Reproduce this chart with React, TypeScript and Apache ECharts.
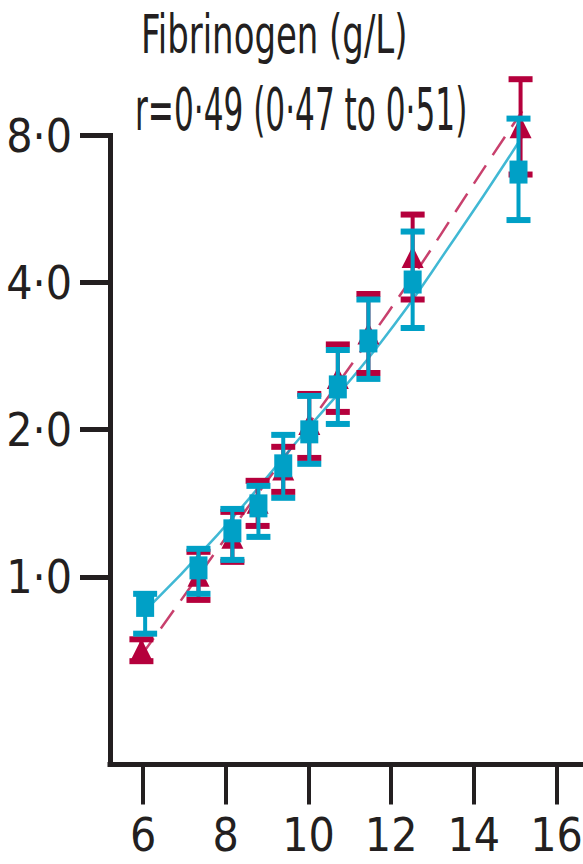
import React, { useEffect, useRef } from "react";
import * as echarts from "echarts";

// Tick values
const xTicks = [6, 8, 10, 12, 14, 16];
const yTicks = [1, 2, 4, 8];

// Blue squares: group means with error bars
const blueX = [6.05, 7.34, 8.16, 8.79, 9.39, 10.02, 10.71, 11.45, 12.52, 15.08];
const blueMean = [0.874, 1.043, 1.242, 1.397, 1.687, 1.98, 2.447, 3.039, 4.011, 6.734];
const blueLow = [0.765, 0.923, 1.083, 1.207, 1.451, 1.703, 2.055, 2.541, 3.23, 5.371];
const blueHigh = [0.923, 1.141, 1.377, 1.535, 1.952, 2.345, 2.912, 3.694, 5.088, 8.663];

// Red triangles: group means with error bars
const redX = [5.96, 7.34, 8.16, 8.77, 9.39, 10.02, 10.71, 11.45, 12.52, 15.13];
const redMean = [0.709, 1.005, 1.202, 1.417, 1.659, 2.055, 2.552, 3.147, 4.512, 8.322];
const redLow = [0.672, 0.897, 1.073, 1.271, 1.492, 1.751, 2.175, 2.613, 3.694, 6.656];
const redHigh = [0.745, 1.125, 1.358, 1.572, 1.845, 2.367, 2.989, 3.791, 5.512, 10.43];

// Fitted lines
const blueFitX = [6.0, 7.8, 9.81, 11.74, 13.56, 15.18];
const blueFitY = [0.844, 1.219, 1.933, 3.01, 4.96, 7.98];
const redFitX = [5.95, 6.58, 7.67, 11.93, 14.44, 15.17];
const redFitY = [0.689, 0.817, 1.099, 3.48, 7.26, 8.97];

const titleText = "Fibrinogen (g/L)";
const subtitleText = "r=0·49 (0·47 to 0·51)";

const BLUE = "#00a0c6";
const RED = "#b5003c";
const INK = "#231f20";
const COND = "'DejaVu Sans Condensed', 'DejaVu Sans', sans-serif";

function errorRenderer(color: string) {
  return (params: any, api: any) => {
    const x = api.value(0);
    const lo = api.coord([x, api.value(1)]);
    const hi = api.coord([x, api.value(2)]);
    const hw = 12;
    return {
      type: "group",
      children: [
        { type: "line", shape: { x1: lo[0], y1: lo[1], x2: hi[0], y2: hi[1] }, style: { stroke: color, lineWidth: 4 } },
        { type: "line", shape: { x1: lo[0] - hw, y1: lo[1], x2: lo[0] + hw, y2: lo[1] }, style: { stroke: color, lineWidth: 6 } },
        { type: "line", shape: { x1: hi[0] - hw, y1: hi[1], x2: hi[0] + hw, y2: hi[1] }, style: { stroke: color, lineWidth: 6 } },
      ],
    };
  };
}

export default function App() {
  const ref = useRef<HTMLDivElement>(null);
  useEffect(() => {
    if (!ref.current) return;
    const chart = echarts.init(ref.current, undefined, { renderer: "svg" });
    const fmt = (v: number) => v.toFixed(1).replace(".", "·");
    chart.setOption({
      animation: false,
      backgroundColor: "#ffffff",
      grid: { left: 110, right: 0, top: 135.5, bottom: 99.5, containLabel: false, outerBoundsMode: "none" },
      xAxis: {
        type: "value",
        min: 5.2,
        max: 16.64,
        axisLine: { show: true, onZero: false, lineStyle: { color: INK, width: 5, cap: "square" } },
        axisTick: { show: true, length: 40, customValues: xTicks, lineStyle: { color: INK, width: 4 } },
        axisLabel: {
          customValues: xTicks,
          margin: 47,
          lineHeight: 46,
          color: INK,
          fontFamily: COND,
          fontSize: 46,
          formatter: (v: number) => String(v),
        },
        splitLine: { show: false },
      },
      yAxis: {
        type: "log",
        logBase: 2,
        min: 0.413,
        max: 8,
        axisLine: { show: true, onZero: false, lineStyle: { color: INK, width: 5, cap: "square" } },
        axisTick: { show: true, length: 30, customValues: yTicks, lineStyle: { color: INK, width: 5 } },
        axisLabel: {
          customValues: yTicks,
          margin: 38,
          lineHeight: 46,
          color: INK,
          fontFamily: COND,
          fontSize: 46,
          formatter: (v: number) => fmt(v),
        },
        splitLine: { show: false },
        minorTick: { show: false },
      },
      graphic: [
        {
          type: "text",
          x: 141,
          y: 35,
          scaleX: 0.82,
          scaleY: 1.15,
          style: { text: titleText, fill: INK, font: `46px ${COND}`, verticalAlign: "middle", align: "left" },
        },
        {
          type: "text",
          x: 135,
          y: 109,
          scaleX: 0.77,
          scaleY: 1.3,
          style: { text: subtitleText, fill: INK, font: `45px ${COND}`, verticalAlign: "middle", align: "left" },
        },
      ],
      series: [
        {
          type: "line",
          data: redFitX.map((x, i) => [x, redFitY[i]]),
          smooth: true,
          symbol: "none",
          clip: false,
          z: 2,
          lineStyle: { color: RED, width: 2.5, type: [22, 12], opacity: 0.75 },
        },
        {
          type: "line",
          data: blueFitX.map((x, i) => [x, blueFitY[i]]),
          smooth: true,
          symbol: "none",
          clip: false,
          z: 3,
          lineStyle: { color: BLUE, width: 2.5, opacity: 0.75 },
        },
        {
          type: "custom",
          renderItem: errorRenderer(RED),
          data: redX.map((x, i) => [x, redLow[i], redHigh[i]]),
          clip: false,
          z: 4,
          encode: { x: 0, y: [1, 2] },
        },
        {
          type: "scatter",
          data: redX.map((x, i) => [x, redMean[i]]),
          symbol: "triangle",
          symbolSize: [22, 22],
          itemStyle: { color: RED, opacity: 1 },
          clip: false,
          z: 5,
        },
        {
          type: "custom",
          renderItem: errorRenderer(BLUE),
          data: blueX.map((x, i) => [x, blueLow[i], blueHigh[i]]),
          clip: false,
          z: 6,
          encode: { x: 0, y: [1, 2] },
        },
        {
          type: "scatter",
          data: blueX.map((x, i) => [x, blueMean[i]]),
          symbol: "rect",
          symbolSize: [18, 23],
          itemStyle: { color: BLUE, opacity: 1 },
          clip: false,
          z: 7,
        },
      ],
    });
    return () => chart.dispose();
  }, []);
  return (
    <div
      ref={ref}
      style={{ position: "fixed", left: 0, top: 0, width: 583, height: 864, background: "#fff" }}
    />
  );
}
